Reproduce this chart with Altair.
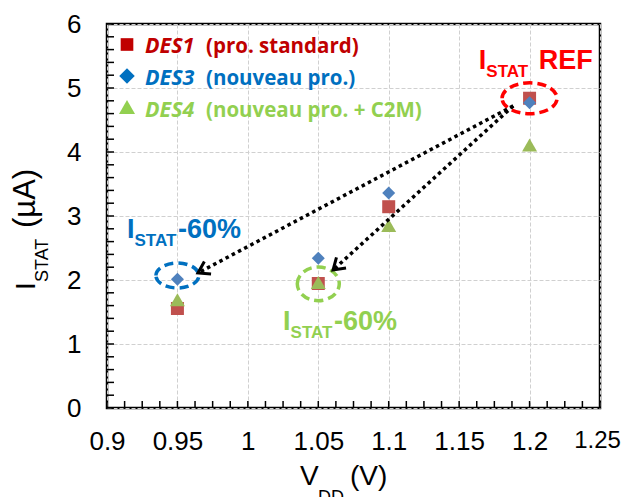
import altair as alt
import pandas as pd

# ---------------- data ----------------
vdd = [0.95, 1.05, 1.1, 1.2]
des1 = [1.555, 1.945, 3.145, 4.84]
des3 = [2.01, 2.34, 3.36, 4.77]
des4 = [1.69, 1.96, 2.85, 4.11]

series_names = ["DES1", "DES3", "DES4"]
series_desc = ["(pro. standard)", "(nouveau pro.)", "(nouveau pro. + C2M)"]

x_tick_values = [0.9, 0.95, 1.0, 1.05, 1.1, 1.15, 1.2, 1.25]
y_tick_values = [0, 1, 2, 3, 4, 5, 6]
x_minor_values = [round(0.9 + i * 0.0125, 4) for i in range(29)]
y_minor_values = [round(i * 0.2, 2) for i in range(31)]

# annotation anchors (data units)
ellipse_x = [1.2, 0.95, 1.05]
ellipse_y = [4.84, 2.07, 1.94]
arrow_id = ["a", "a", "b", "b"]
arrow_x = [1.1884, 0.9646, 1.1884, 1.0605]
arrow_y = [4.72, 2.11, 4.72, 2.156]
arrow_tip_x = [0.9646, 1.0605]
arrow_tip_y = [2.11, 2.156]

label_x = [1.164, 0.9142, 1.025]
label_y = [5.30, 2.656, 1.219]
label_tail = ["REF", "-60%", "-60%"]

# ---------------- styles ----------------
W, H = 493, 384
FONT = "Liberation Sans"
LFONT = "Open Sans"
RED, BLUE, GREEN = "#FF0000", "#0070C0", "#92D050"
LEG_COLORS = ["#C00000", "#0070C0", "#92D050"]
LEG_SHAPES = ["square", "diamond", "triangle-up"]
LEG_SIZES = [160, 240, 256]

xs = alt.Scale(domain=[0.9, 1.25], nice=False, zero=False)
ys = alt.Scale(domain=[0, 6], nice=False, zero=False)

axis_x = alt.Axis(values=x_tick_values, format="~g", labelFont=FONT,
                  labelFontSize={"condition": {"test": "datum.value >= 1.249", "value": 24}, "value": 26},
                  labelOffset={"condition": {"test": "datum.value >= 1.249", "value": -3}, "value": 0},
                  labelColor="black", labelPadding=20, ticks=False, domain=False,
                  grid=True, gridColor="#D0D0D0", gridDash=[4, 2], gridWidth=1,
                  title=None, labelFlush=False, labelOverlap=False)
axis_y = alt.Axis(values=y_tick_values, format="~g", labelFont=FONT, labelFontSize=26,
                  labelColor="black", labelPadding=26, ticks=False, domain=False,
                  grid=True, gridColor="#D0D0D0", gridDash=[4, 2], gridWidth=1,
                  title=None, labelFlush=False, labelOverlap=False)

one = alt.Data(values=[{}])

df = pd.DataFrame({"vdd": vdd, "des1": des1, "des3": des3, "des4": des4})

def X(f):
    return alt.X(f, type="quantitative", scale=xs, axis=axis_x)

def Y(f):
    return alt.Y(f, type="quantitative", scale=ys, axis=axis_y)

layers = []

# data markers (first layer carries the axes)
layers.append(alt.Chart(df).mark_point(shape="square", filled=True, size=169, color="#C0504D", opacity=1)
              .encode(x=X("vdd"), y=Y("des1")))
layers.append(alt.Chart(df).mark_point(shape="diamond", filled=True, size=169, color="#4F81BD", opacity=1)
              .encode(x=X("vdd"), y=Y("des3")))
layers.append(alt.Chart(df).mark_point(shape="triangle-up", filled=True, size=225, color="#9BBB59", opacity=1)
              .encode(x=X("vdd"), y=Y("des4")))

# minor ticks (inside)
layers.append(alt.Chart(pd.DataFrame({"v": y_minor_values})).mark_rule(color="black", strokeWidth=1.5)
              .encode(y=Y("v"), x=alt.value(0), x2=alt.value(7)))
layers.append(alt.Chart(pd.DataFrame({"v": x_minor_values})).mark_rule(color="black", strokeWidth=1.5)
              .encode(x=X("v"), y=alt.value(H), y2=alt.value(H - 7)))

# dashed ellipses
ell_colors = [RED, BLUE, GREEN]
ell_width = [55, 43, 42]
ell_ratio = [0.56, 0.58, 0.8]
for i in range(3):
    r = ell_ratio[i]
    path = f"M -1 0 A 1 {r} 0 1 1 1 0 A 1 {r} 0 1 1 -1 0 Z"
    layers.append(alt.Chart(pd.DataFrame({"x": [ellipse_x[i]], "y": [ellipse_y[i]]}))
                  .mark_point(shape=path, filled=False, size=ell_width[i] ** 2, color=ell_colors[i],
                              strokeWidth=3.5, strokeDash=[9, 5], opacity=1)
                  .encode(x=X("x"), y=Y("y")))

# dotted arrows
adf = pd.DataFrame({"id": arrow_id, "x": arrow_x, "y": arrow_y, "o": [0, 1, 0, 1]})
layers.append(alt.Chart(adf).mark_line(color="black", strokeWidth=3.5, strokeDash=[3.5, 3.5], strokeCap="butt")
              .encode(x=X("x"), y=Y("y"), detail="id:N", order="o:Q"))
tdf = pd.DataFrame({"x": arrow_tip_x, "y": arrow_tip_y, "ang": [152, 138]})
layers.append(alt.Chart(tdf).mark_point(shape="M -1 -0.65 L 0 0 L -1 0.65", filled=False, size=484,
                                        color="black", strokeWidth=3, opacity=1, strokeJoin="miter")
              .encode(x=X("x"), y=Y("y"), angle=alt.Angle("ang:Q", scale=None)))

# annotation labels with subscripts
lab_colors = [RED, BLUE, GREEN]
lab_tail_dx = [60, 51, 51]
for i in range(3):
    d = pd.DataFrame({"x": [label_x[i]], "y": [label_y[i]]})
    base = alt.Chart(d)
    layers.append(base.mark_text(text="I", align="left", baseline="alphabetic", font=FONT, fontWeight="bold",
                                 fontSize=27, color=lab_colors[i]).encode(x=X("x"), y=Y("y")))
    layers.append(base.mark_text(text="STAT", align="left", baseline="alphabetic", font=FONT, fontWeight="bold",
                                 fontSize=17, color=lab_colors[i], dx=7.5, dy=8).encode(x=X("x"), y=Y("y")))
    layers.append(base.mark_text(text=label_tail[i], align="left", baseline="alphabetic", font=FONT,
                                 fontWeight="bold", fontSize=27, color=lab_colors[i], dx=lab_tail_dx[i])
                  .encode(x=X("x"), y=Y("y")))

# legend (inside plot, top-left)
leg = pd.DataFrame({"name": series_names, "desc": series_desc, "color": LEG_COLORS,
                    "py": [20.5, 52, 83], "ty": [29, 61, 93]})
for i in range(3):
    layers.append(alt.Chart(leg.iloc[[i]]).mark_point(shape=LEG_SHAPES[i], filled=True, size=LEG_SIZES[i],
                                                      color=LEG_COLORS[i], opacity=1)
                  .encode(x=alt.value(20), y=alt.Y("py:Q", scale=None)))
layers.append(alt.Chart(leg).mark_text(align="left", baseline="alphabetic", font=LFONT, fontWeight="bold",
                                       fontStyle="italic", fontSize=21.5)
              .encode(x=alt.value(38), y=alt.Y("ty:Q", scale=None), text="name:N",
                      color=alt.Color("color:N", scale=None)))
layers.append(alt.Chart(leg).mark_text(align="left", baseline="alphabetic", font=LFONT, fontWeight="bold",
                                       fontSize=20.5)
              .encode(x=alt.value(99), y=alt.Y("ty:Q", scale=None), text="desc:N",
                      color=alt.Color("color:N", scale=None)))

# axis titles with subscripts
def txt(t, x, y, size, angle=0):
    kw = dict(text=t, align="left", baseline="alphabetic", font=FONT, fontSize=size, color="black")
    if angle:
        kw["angle"] = angle
    return alt.Chart(one).mark_text(**kw).encode(x=alt.value(x), y=alt.value(y))

layers.append(txt("I", -72, 266, 28, 270))
layers.append(txt("STAT", -59, 258, 18, 270))
layers.append(txt("(µA)", -72, 204, 31, 270))
layers.append(txt("V", 193, 461, 28))
layers.append(txt("DD", 211, 479, 18))
layers.append(txt("(V)", 243, 461, 28))

chart = alt.layer(*layers).properties(
    width=W, height=H,
    autosize=alt.AutoSizeParams(type="none"),
    padding={"left": 99, "top": 16, "right": 21, "bottom": 89},
    background="white",
).configure_view(stroke="black", strokeWidth=2.5)

chart.save("out.html", embed_options={"renderer": "svg", "actions": False})
